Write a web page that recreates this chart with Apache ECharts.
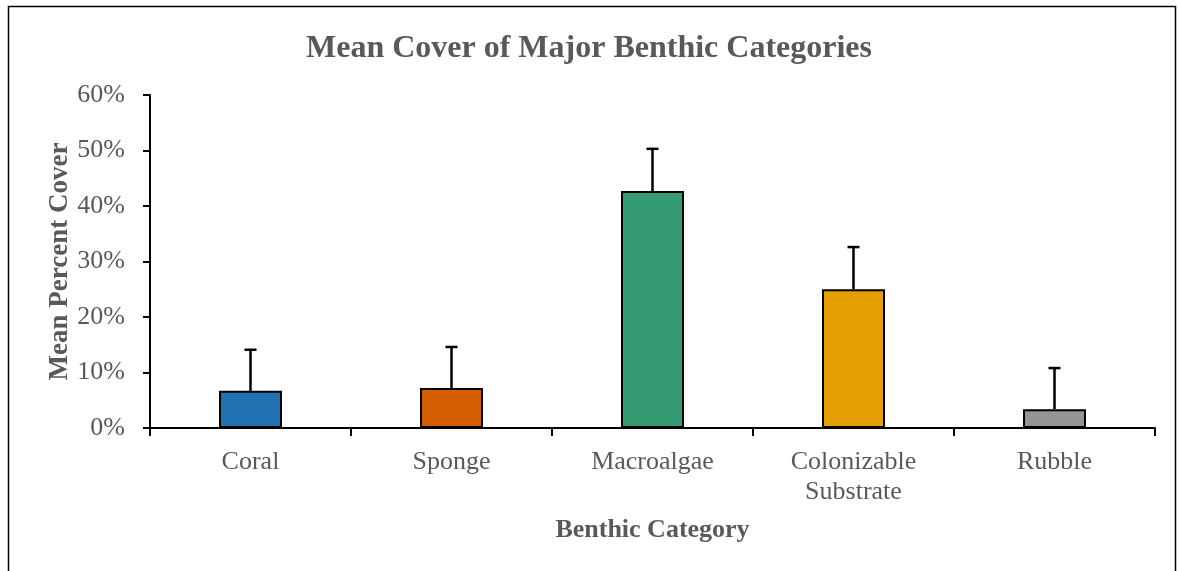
<!DOCTYPE html>
<html lang="en">
<head>
    <meta charset="UTF-8">
    <title>Mean Cover of Major Benthic Categories</title>
    <script src="https://cdn.jsdelivr.net/npm/echarts@6/dist/echarts.min.js"></script>
    <style>
        html, body { margin: 0; padding: 0; background: #fff; }
    </style>
</head>
<body>
    <div id="main" style="width:1178px;height:571px"></div>
    <script>
        // data
        var categories = ['Coral', 'Sponge', 'Macroalgae', 'Colonizable\nSubstrate', 'Rubble'];
        var meanCover = [6.7, 7.2, 42.7, 25.0, 3.4];
        var errUpper = [7.4, 7.4, 7.6, 7.6, 7.4];
        var barColors = ['#2271B2', '#D55E00', '#359B73', '#E69F00', '#949494'];
        var yTicks = [0, 10, 20, 30, 40, 50, 60];

        var font = 'Liberation Serif, Times New Roman, serif';
        var grey = '#595959';

        var myChart = echarts.init(document.getElementById('main'));

        var errData = meanCover.map(function (v, i) {
            return [i, v, v + errUpper[i]];
        });

        var option = {
            animation: false,
            backgroundColor: '#fff',
            graphic: [{
                type: 'rect',
                shape: { x: 8.5, y: 6.5, width: 1167, height: 600 },
                style: { fill: 'none', stroke: '#000', lineWidth: 1.5 },
                silent: true
            }],
            title: {
                text: 'Mean Cover of Major Benthic Categories',
                left: 'center',
                top: 28,
                textStyle: { fontFamily: font, fontSize: 32, fontWeight: 'bold', color: grey }
            },
            grid: { left: 150, right: 23, top: 95, bottom: 143 },
            xAxis: {
                type: 'category',
                data: categories,
                boundaryGap: true,
                name: 'Benthic Category',
                nameLocation: 'middle',
                nameGap: 89,
                nameTextStyle: { fontFamily: font, fontSize: 26, fontWeight: 'bold', color: grey },
                axisLine: { lineStyle: { color: '#000', width: 2 } },
                axisTick: { show: true, length: 8, alignWithLabel: false, lineStyle: { color: '#000', width: 2 } },
                axisLabel: { fontFamily: font, fontSize: 26, color: grey, margin: 19, lineHeight: 30 }
            },
            yAxis: {
                type: 'value',
                min: yTicks[0],
                max: yTicks[yTicks.length - 1],
                interval: 10,
                name: 'Mean Percent Cover',
                nameLocation: 'middle',
                nameGap: 76,
                nameMoveOverlap: false,
                nameTextStyle: { fontFamily: font, fontSize: 27, fontWeight: 'bold', color: grey },
                axisLine: { show: true, lineStyle: { color: '#000', width: 2 } },
                axisTick: { show: true, length: 7, lineStyle: { color: '#000', width: 2 } },
                splitLine: { show: false },
                axisLabel: {
                    fontFamily: font, fontSize: 26, color: grey, margin: 25,
                    formatter: function (v) { return v + '%'; }
                }
            },
            series: [
                {
                    type: 'bar',
                    data: meanCover.map(function (v, i) {
                        return { value: v, itemStyle: { color: barColors[i] } };
                    }),
                    barWidth: 63,
                    itemStyle: { borderColor: '#000', borderWidth: 2 },
                    z: 2
                },
                {
                    type: 'custom',
                    data: errData,
                    z: 3,
                    renderItem: function (params, api) {
                        var lo = api.coord([api.value(0), api.value(1)]);
                        var hi = api.coord([api.value(0), api.value(2)]);
                        var half = 6;
                        return {
                            type: 'group',
                            children: [
                                { type: 'line', shape: { x1: lo[0], y1: lo[1], x2: hi[0], y2: hi[1] },
                                  style: { stroke: '#000', lineWidth: 2.5 } },
                                { type: 'line', shape: { x1: hi[0] - half, y1: hi[1], x2: hi[0] + half, y2: hi[1] },
                                  style: { stroke: '#000', lineWidth: 2.5 } }
                            ]
                        };
                    }
                }
            ]
        };
        myChart.setOption(option);
    </script>
</body>
</html>
